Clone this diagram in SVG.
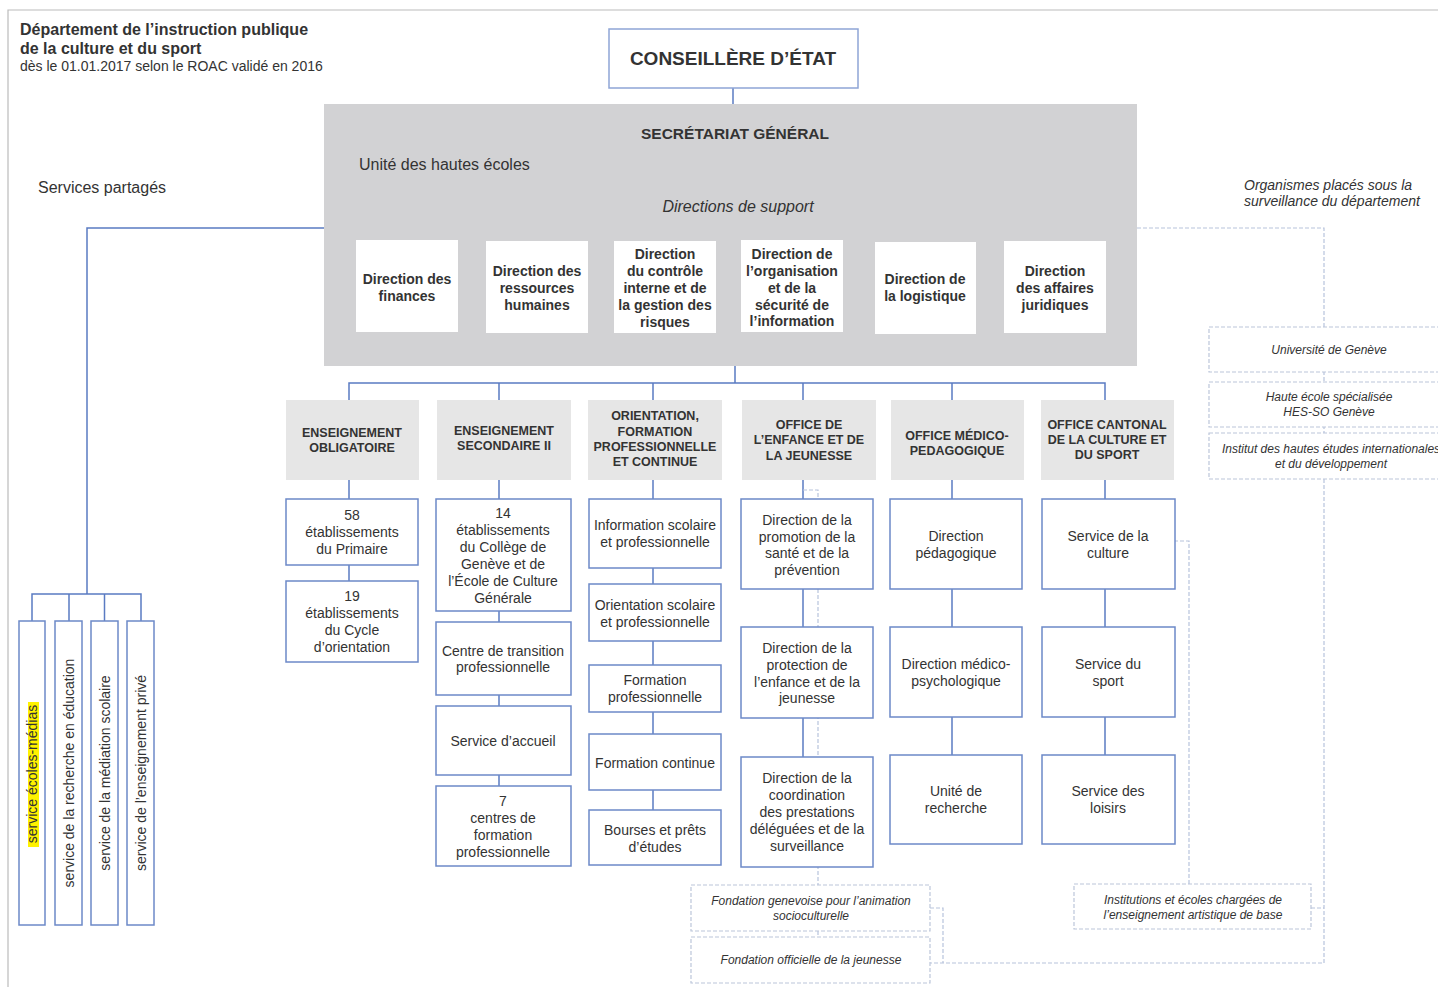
<svg xmlns="http://www.w3.org/2000/svg" width="1438" height="987" viewBox="0 0 1438 987">
<style>
text{font-family:"Liberation Sans",Arial,sans-serif;fill:#333}
.c{text-anchor:middle}
.hb{font-size:15.5px;font-weight:bold}
.sup{font-size:14px;font-weight:bold}
.off{font-size:12.5px;font-weight:bold}
.sub{font-size:14px}
.it{font-size:12px;font-style:italic}
.ln{fill:none;stroke:#5a7bc2;stroke-width:1.5}
.dl{fill:none;stroke:#b7c3dc;stroke-width:1.2;stroke-dasharray:4 2}
.box{fill:#fff;stroke:#6c89c8;stroke-width:1.5}
.dbox{fill:#fff;stroke:#bcc6da;stroke-width:1.2;stroke-dasharray:4 2}
.ofb{fill:#e6e6e6}
.wb{fill:#fff}
</style>
<rect width="1438" height="987" fill="#fff"/>
<path d="M8 987V10H1438" fill="none" stroke="#bbbbbb" stroke-width="1.2"/>

<g id="header">
<text x="20" y="35" style="font-size:16px;font-weight:bold">Département de l’instruction publique</text>
<text x="20" y="54" style="font-size:16px;font-weight:bold">de la culture et du sport</text>
<text x="20" y="71" style="font-size:14px">dès le 01.01.2017 selon le ROAC validé en 2016</text>
<text x="38" y="193" style="font-size:16px">Services partagés</text>
<text x="1244" y="190" style="font-size:14px;font-style:italic">Organismes placés sous la</text>
<text x="1244" y="206" style="font-size:14px;font-style:italic">surveillance du département</text>
</g>

<g id="connectors">
<path class="ln" d="M733 88V104"/>
<path class="ln" d="M324 228H87V594M32 621V594H141V621M69 594V621M104.5 594V621"/>
<path class="ln" d="M735 366V383M349 400V383H1105V400M499 383V400M653 383V400M803 383V400M952 383V400"/>
<path class="ln" d="M349 480V581"/>
<path class="ln" d="M499 480V786"/>
<path class="ln" d="M653 480V810"/>
<path class="ln" d="M803 480V757"/>
<path class="ln" d="M952 480V755"/>
<path class="ln" d="M1105 480V755"/>
<path class="dl" d="M803 490H818V885M818 931V937"/>
<path class="dl" d="M1137 228H1324V963H930M930 908H943V963M1311 908H1324M1189 884V541H1175"/>
</g>

<g id="conseillere">
<rect x="609" y="29" width="249" height="59" fill="#fff" stroke="#8ea5d6" stroke-width="1.5"/>
<text class="c" x="733" y="65" style="font-size:19px;font-weight:bold">CONSEILLÈRE D’ÉTAT</text>
</g>

<g id="secretariat">
<rect x="324" y="104" width="813" height="262" fill="#d2d2d4"/>
<text class="c hb" x="735" y="139">SECRÉTARIAT GÉNÉRAL</text>
<text x="359" y="170" style="font-size:16px">Unité des hautes écoles</text>
<text class="c" x="738" y="212" style="font-size:16px;font-style:italic">Directions de support</text>
</g>

<g id="dir-finances"><rect class="wb" x="356" y="240" width="102" height="92"/>
<text class="c sup" x="407" y="284">Direction des</text><text class="c sup" x="407" y="301">finances</text></g>
<g id="dir-rh"><rect class="wb" x="486" y="241" width="102" height="92"/>
<text class="c sup" x="537" y="276">Direction des</text><text class="c sup" x="537" y="293">ressources</text><text class="c sup" x="537" y="310">humaines</text></g>
<g id="dir-controle"><rect class="wb" x="614" y="241" width="102" height="92"/>
<text class="c sup" x="665" y="259">Direction</text><text class="c sup" x="665" y="276">du contrôle</text><text class="c sup" x="665" y="293">interne et de</text><text class="c sup" x="665" y="310">la gestion des</text><text class="c sup" x="665" y="327">risques</text></g>
<g id="dir-organisation"><rect class="wb" x="741" y="240" width="102" height="92"/>
<text class="c sup" x="792" y="259">Direction de</text><text class="c sup" x="792" y="276">l’organisation</text><text class="c sup" x="792" y="293">et de la</text><text class="c sup" x="792" y="310">sécurité de</text><text class="c sup" x="792" y="326">l’information</text></g>
<g id="dir-logistique"><rect class="wb" x="875" y="242" width="101" height="92"/>
<text class="c sup" x="925" y="284">Direction de</text><text class="c sup" x="925" y="301">la logistique</text></g>
<g id="dir-juridiques"><rect class="wb" x="1004" y="241" width="102" height="92"/>
<text class="c sup" x="1055" y="276">Direction</text><text class="c sup" x="1055" y="293">des affaires</text><text class="c sup" x="1055" y="310">juridiques</text></g>

<g id="svc-ecoles-medias"><rect class="box" x="19" y="621" width="26" height="304"/>
<rect x="28" y="702" width="11" height="145" fill="#fff200"/>
<text class="c sub" transform="translate(37,774) rotate(-90)">service écoles-médias</text></g>
<g id="svc-recherche"><rect class="box" x="55" y="621" width="27" height="304"/>
<text class="c sub" transform="translate(73.5,773) rotate(-90)">service de la recherche en éducation</text></g>
<g id="svc-mediation"><rect class="box" x="91" y="621" width="27" height="304"/>
<text class="c sub" transform="translate(109.5,773) rotate(-90)">service de la médiation scolaire</text></g>
<g id="svc-prive"><rect class="box" x="127" y="621" width="27" height="304"/>
<text class="c sub" transform="translate(145.5,773) rotate(-90)">service de l’enseignement privé</text></g>

<g id="off-obligatoire"><rect class="ofb" x="286" y="400" width="133" height="80"/>
<text class="c off" x="352" y="437">ENSEIGNEMENT</text><text class="c off" x="352" y="452">OBLIGATOIRE</text></g>
<g id="off-secondaire"><rect class="ofb" x="437" y="400" width="134" height="80"/>
<text class="c off" x="504" y="435">ENSEIGNEMENT</text><text class="c off" x="504" y="450">SECONDAIRE II</text></g>
<g id="off-orientation"><rect class="ofb" x="588" y="400" width="134" height="80"/>
<text class="c off" x="655" y="420">ORIENTATION,</text><text class="c off" x="655" y="436">FORMATION</text><text class="c off" x="655" y="451">PROFESSIONNELLE</text><text class="c off" x="655" y="466">ET CONTINUE</text></g>
<g id="off-enfance"><rect class="ofb" x="742" y="400" width="134" height="80"/>
<text class="c off" x="809" y="429">OFFICE DE</text><text class="c off" x="809" y="444">L’ENFANCE ET DE</text><text class="c off" x="809" y="460">LA JEUNESSE</text></g>
<g id="off-medico"><rect class="ofb" x="891" y="400" width="133" height="80"/>
<text class="c off" x="957" y="440">OFFICE MÉDICO-</text><text class="c off" x="957" y="455">PEDAGOGIQUE</text></g>
<g id="off-culture"><rect class="ofb" x="1041" y="400" width="133" height="80"/>
<text class="c off" x="1107" y="429">OFFICE CANTONAL</text><text class="c off" x="1107" y="444">DE LA CULTURE ET</text><text class="c off" x="1107" y="459">DU SPORT</text></g>

<g id="primaire"><rect class="box" x="286" y="499" width="132" height="66"/>
<text class="c sub" x="352" y="520">58</text><text class="c sub" x="352" y="537">établissements</text><text class="c sub" x="352" y="554">du Primaire</text></g>
<g id="cycle"><rect class="box" x="286" y="581" width="132" height="81"/>
<text class="c sub" x="352" y="601">19</text><text class="c sub" x="352" y="618">établissements</text><text class="c sub" x="352" y="635">du Cycle</text><text class="c sub" x="352" y="652">d’orientation</text></g>

<g id="college"><rect class="box" x="436" y="499" width="135" height="112"/>
<text class="c sub" x="503" y="518">14</text><text class="c sub" x="503" y="535">établissements</text><text class="c sub" x="503" y="552">du Collège de</text><text class="c sub" x="503" y="569">Genève et de</text><text class="c sub" x="503" y="586">l’École de Culture</text><text class="c sub" x="503" y="603">Générale</text></g>
<g id="transition"><rect class="box" x="436" y="622" width="135" height="73"/>
<text class="c sub" x="503" y="656">Centre de transition</text><text class="c sub" x="503" y="672">professionnelle</text></g>
<g id="accueil"><rect class="box" x="436" y="706" width="135" height="69"/>
<text class="c sub" x="503" y="746">Service d’accueil</text></g>
<g id="cfp"><rect class="box" x="436" y="786" width="135" height="80"/>
<text class="c sub" x="503" y="806">7</text><text class="c sub" x="503" y="823">centres de</text><text class="c sub" x="503" y="840">formation</text><text class="c sub" x="503" y="857">professionnelle</text></g>

<g id="info-scolaire"><rect class="box" x="589" y="499" width="132" height="69"/>
<text class="c sub" x="655" y="530">Information scolaire</text><text class="c sub" x="655" y="547">et professionnelle</text></g>
<g id="orient-scolaire"><rect class="box" x="589" y="584" width="132" height="57"/>
<text class="c sub" x="655" y="610">Orientation scolaire</text><text class="c sub" x="655" y="627">et professionnelle</text></g>
<g id="form-pro"><rect class="box" x="589" y="665" width="132" height="47"/>
<text class="c sub" x="655" y="685">Formation</text><text class="c sub" x="655" y="702">professionnelle</text></g>
<g id="form-continue"><rect class="box" x="589" y="734" width="132" height="56"/>
<text class="c sub" x="655" y="768">Formation continue</text></g>
<g id="bourses"><rect class="box" x="589" y="810" width="132" height="55"/>
<text class="c sub" x="655" y="835">Bourses et prêts</text><text class="c sub" x="655" y="852">d’études</text></g>

<g id="promotion-sante"><rect class="box" x="741" y="499" width="132" height="90"/>
<text class="c sub" x="807" y="525">Direction de la</text><text class="c sub" x="807" y="542">promotion de la</text><text class="c sub" x="807" y="558">santé et de la</text><text class="c sub" x="807" y="575">prévention</text></g>
<g id="protection-enfance"><rect class="box" x="741" y="627" width="132" height="91"/>
<text class="c sub" x="807" y="653">Direction de la</text><text class="c sub" x="807" y="670">protection de</text><text class="c sub" x="807" y="687">l’enfance et de la</text><text class="c sub" x="807" y="703">jeunesse</text></g>
<g id="coordination"><rect class="box" x="741" y="757" width="132" height="110"/>
<text class="c sub" x="807" y="783">Direction de la</text><text class="c sub" x="807" y="800">coordination</text><text class="c sub" x="807" y="817">des prestations</text><text class="c sub" x="807" y="834">déléguées et de la</text><text class="c sub" x="807" y="851">surveillance</text></g>

<g id="dir-pedagogique"><rect class="box" x="890" y="499" width="132" height="90"/>
<text class="c sub" x="956" y="541">Direction</text><text class="c sub" x="956" y="558">pédagogique</text></g>
<g id="dir-medico"><rect class="box" x="890" y="627" width="132" height="90"/>
<text class="c sub" x="956" y="669">Direction médico-</text><text class="c sub" x="956" y="686">psychologique</text></g>
<g id="unite-recherche"><rect class="box" x="890" y="755" width="132" height="89"/>
<text class="c sub" x="956" y="796">Unité de</text><text class="c sub" x="956" y="813">recherche</text></g>

<g id="svc-culture"><rect class="box" x="1042" y="499" width="133" height="90"/>
<text class="c sub" x="1108" y="541">Service de la</text><text class="c sub" x="1108" y="558">culture</text></g>
<g id="svc-sport"><rect class="box" x="1042" y="627" width="133" height="90"/>
<text class="c sub" x="1108" y="669">Service du</text><text class="c sub" x="1108" y="686">sport</text></g>
<g id="svc-loisirs"><rect class="box" x="1042" y="755" width="133" height="89"/>
<text class="c sub" x="1108" y="796">Service des</text><text class="c sub" x="1108" y="813">loisirs</text></g>

<g id="unige"><rect class="dbox" x="1209" y="327" width="240" height="45"/>
<text class="c it" x="1329" y="354">Université de Genève</text></g>
<g id="hes"><rect class="dbox" x="1209" y="382" width="240" height="45"/>
<text class="c it" x="1329" y="401">Haute école spécialisée</text><text class="c it" x="1329" y="416">HES-SO Genève</text></g>
<g id="iheid"><rect class="dbox" x="1209" y="433" width="240" height="46"/>
<text class="c it" x="1331" y="453">Institut des hautes études internationales</text><text class="c it" x="1331" y="468">et du développement</text></g>
<g id="fase"><rect class="dbox" x="691" y="885" width="239" height="46"/>
<text class="c it" x="811" y="905">Fondation genevoise pour l’animation</text><text class="c it" x="811" y="920">socioculturelle</text></g>
<g id="foj"><rect class="dbox" x="691" y="937" width="239" height="46"/>
<text class="c it" x="811" y="964">Fondation officielle de la jeunesse</text></g>
<g id="institutions"><rect class="dbox" x="1074" y="884" width="237" height="45"/>
<text class="c it" x="1193" y="904">Institutions et écoles chargées de</text><text class="c it" x="1193" y="919">l’enseignement artistique de base</text></g>
</svg>
